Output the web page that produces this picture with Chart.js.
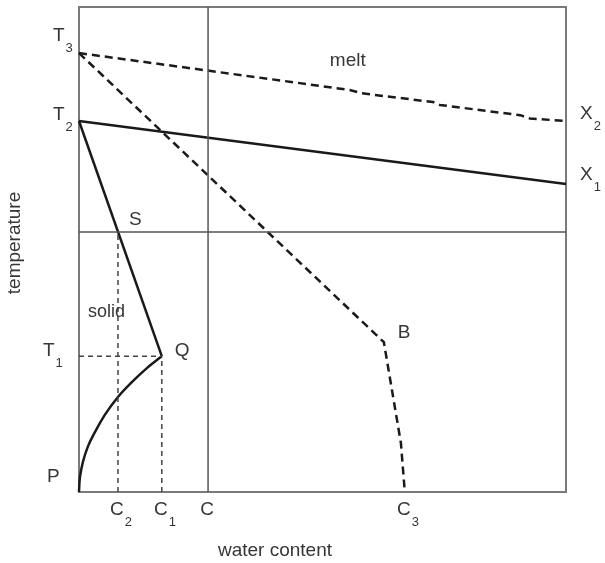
<!DOCTYPE html>
<html>
<head>
<meta charset="utf-8">
<script src="https://cdn.jsdelivr.net/npm/chart.js@4/dist/chart.umd.min.js"></script>
<style>
  html, body { margin: 0; padding: 0; background: #ffffff; }
  #wrap { width: 605px; height: 563px; position: relative; }
</style>
</head>
<body>
<div id="wrap"><canvas id="c" width="605" height="563"></canvas></div>
<script>
// ---- axis "tick" labels (values in data units: water content 0-100, temperature 0-100)
const xTickValues = [8.0, 17.0, 26.5, 66.9];
const xTickNames  = ['C', 'C', 'C', 'C'];
const xTickSubs   = ['2', '1', '', '3'];
const yTickValues = [0, 28.0, 76.5, 90.5];
const yTickNames  = ['P', 'T', 'T', 'T'];
const yTickSubs   = ['', '1', '2', '3'];

// ---- series
const liquidusX1_x = [0, 100];
const liquidusX1_y = [76.5, 63.5];
const liquidusX2_x = [0, 55.6, 58.1, 72.7, 74.1, 90.6, 92.6, 100];
const liquidusX2_y = [90.5, 82.9, 82.2, 80.4, 79.8, 77.7, 77.0, 76.5];
const pathT3B_x = [0, 62.6, 66.1, 66.9];
const pathT3B_y = [90.5, 30.9, 10.1, 0];
const solidusT2Q_x = [0, 17.0];
const solidusT2Q_y = [76.5, 28.0];
const solidusQP_x = [0, 0.1, 0.3, 0.8, 1.8, 3.3, 5.3, 8.0, 10.9, 14.0, 17.0];
const solidusQP_y = [0, 2.1, 3.7, 6.2, 9.3, 12.4, 15.9, 19.6, 22.7, 25.6, 28.0];
const dividerY = 53.6;
const compC = 26.5;
const compC2 = 8.0;
const compC1 = 17.0;
const tempT1 = 28.0;

const pts = (xs, ys) => xs.map((x, i) => ({x: x, y: ys[i]}));

const FONT = '"Liberation Sans", Arial, sans-serif';
const TEXT = '#363636';

// text placement (pixel offsets from anchors)
const yLabelLeft = [47, 43, 53, 53];
const yLabelDy   = [-15, -5, -6, -17];

const textPlugin = {
  id: 'texts',
  beforeDatasetsDraw(chart) {
    const {ctx, chartArea: a} = chart;
    ctx.save();
    ctx.strokeStyle = '#7a7a7a';
    ctx.lineWidth = 2;
    ctx.strokeRect(a.left, a.top, a.right - a.left, a.bottom - a.top);
    ctx.restore();
  },
  afterDraw(chart) {
    const {ctx} = chart;
    const xs = chart.scales.x, ys = chart.scales.y;
    function sub(main, s, px, py, size, align) {
      ctx.font = size + 'px ' + FONT;
      const mw = ctx.measureText(main).width;
      let left = px;
      if (align === 'center') left = px - mw / 2;
      ctx.fillStyle = TEXT;
      ctx.textBaseline = 'middle';
      ctx.textAlign = 'left';
      ctx.font = size + 'px ' + FONT;
      ctx.fillText(main, left, py);
      if (s) {
        ctx.font = Math.round(size * 0.68) + 'px ' + FONT;
        ctx.fillText(s, left + mw + 1, py + size * 0.66);
      }
    }
    ctx.save();
    // x labels
    xTickValues.forEach((v, i) => {
      sub(xTickNames[i], xTickSubs[i], xs.getPixelForValue(v) - 1, chart.chartArea.bottom + 18, 19, 'center');
    });
    // y labels
    yTickValues.forEach((v, i) => {
      const py = ys.getPixelForValue(v);
      sub(yTickNames[i], yTickSubs[i], yLabelLeft[i], py + yLabelDy[i], 19, 'left');
    });
    // region and point labels
    sub('melt', '', xs.getPixelForValue(51.5), ys.getPixelForValue(89.0), 19, 'left');
    sub('solid', '', xs.getPixelForValue(1.85), ys.getPixelForValue(37.1), 18, 'left');
    sub('S', '', xs.getPixelForValue(compC2) + 11, ys.getPixelForValue(dividerY) - 12, 19, 'left');
    sub('Q', '', xs.getPixelForValue(solidusT2Q_x[1]) + 13, ys.getPixelForValue(tempT1) - 5, 19, 'left');
    sub('B', '', xs.getPixelForValue(pathT3B_x[1]) + 14, ys.getPixelForValue(pathT3B_y[1]) - 9, 19, 'left');
    sub('X', '2', xs.getPixelForValue(100) + 14, ys.getPixelForValue(liquidusX2_y[liquidusX2_y.length - 1]) - 7, 19, 'left');
    sub('X', '1', xs.getPixelForValue(100) + 14, ys.getPixelForValue(liquidusX1_y[1]) - 9, 19, 'left');
    // axis titles
    ctx.fillStyle = TEXT;
    ctx.font = '19px ' + FONT;
    ctx.textAlign = 'center';
    ctx.textBaseline = 'middle';
    ctx.fillText('water content', 275, 551);
    ctx.translate(15, 243);
    ctx.rotate(-Math.PI / 2);
    ctx.fillText('temperature', 0, 0);
    ctx.restore();
  }
};

const base = {showLine: true, pointRadius: 0, fill: false, clip: 6, tension: 0};

new Chart(document.getElementById('c'), {
  type: 'scatter',
  data: {
    datasets: [
      Object.assign({}, base, {data: pts([0, 100], [dividerY, dividerY]), borderColor: '#555555', borderWidth: 1.5}),
      Object.assign({}, base, {data: pts([compC, compC], [0, 100]), borderColor: '#555555', borderWidth: 1.5}),
      Object.assign({}, base, {data: pts([compC2, compC2], [0, dividerY]), borderColor: '#444444', borderWidth: 1.5, borderDash: [5, 4]}),
      Object.assign({}, base, {data: pts([compC1, compC1], [0, tempT1]), borderColor: '#444444', borderWidth: 1.5, borderDash: [5, 4]}),
      Object.assign({}, base, {data: pts([0, compC1], [tempT1, tempT1]), borderColor: '#444444', borderWidth: 1.5, borderDash: [5, 4]}),
      Object.assign({}, base, {data: pts(liquidusX1_x, liquidusX1_y), borderColor: '#1a1a1a', borderWidth: 2.5}),
      Object.assign({}, base, {data: pts(liquidusX2_x, liquidusX2_y), borderColor: '#1a1a1a', borderWidth: 2.5, borderDash: [8, 5]}),
      Object.assign({}, base, {data: pts(pathT3B_x, pathT3B_y), borderColor: '#1a1a1a', borderWidth: 2.5, borderDash: [8, 5]}),
      Object.assign({}, base, {data: pts(solidusT2Q_x, solidusT2Q_y), borderColor: '#1a1a1a', borderWidth: 2.5}),
      Object.assign({}, base, {data: pts(solidusQP_x, solidusQP_y), borderColor: '#1a1a1a', borderWidth: 2.5, cubicInterpolationMode: 'monotone'})
    ]
  },
  options: {
    responsive: false,
    animation: false,
    events: [],
    layout: {padding: {left: 79, right: 39, top: 7, bottom: 71}},
    plugins: {legend: {display: false}, tooltip: {enabled: false}},
    scales: {
      x: {type: 'linear', min: 0, max: 100, display: false},
      y: {type: 'linear', min: 0, max: 100, display: false}
    }
  },
  plugins: [textPlugin]
});
</script>
</body>
</html>
